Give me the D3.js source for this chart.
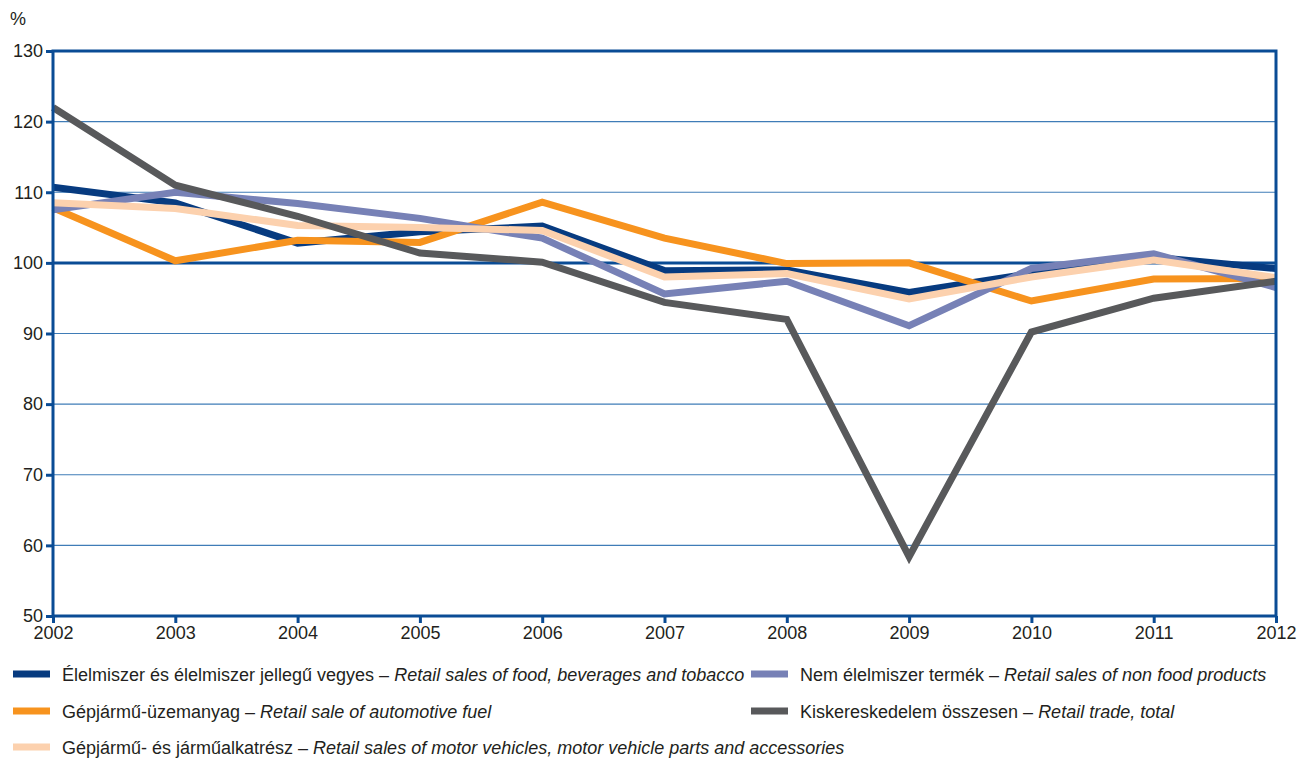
<!DOCTYPE html>
<html>
<head>
<meta charset="utf-8">
<script src="https://cdn.jsdelivr.net/npm/d3@7"></script>
<style>
  body { margin: 0; background: #fff; }
  text { font-family: "Liberation Sans Narrow", "Arial Narrow", "Liberation Sans", sans-serif; fill: #231f20; }
</style>
</head>
<body>
<script>
const years = [2002, 2003, 2004, 2005, 2006, 2007, 2008, 2009, 2010, 2011, 2012];
const yTicks = [50, 60, 70, 80, 90, 100, 110, 120, 130];

const food     = [110.7, 108.5, 102.8, 104.4, 105.2, 98.9, 99.0, 95.8, 98.5, 100.8, 99.2];
const fuel     = [107.8, 100.3, 103.2, 102.9, 108.6, 103.5, 99.9, 100.0, 94.6, 97.7, 97.8];
const nonFood  = [107.5, 110.0, 108.4, 106.3, 103.5, 95.6, 97.4, 91.1, 99.2, 101.3, 96.5];
const vehicles = [108.5, 107.7, 105.3, 105.0, 104.6, 98.0, 98.5, 94.9, 98.0, 100.4, 97.9];
const total    = [122.0, 111.0, 106.6, 101.4, 100.1, 94.4, 92.0, 58.4, 90.2, 95.0, 97.4];

const seriesNames = [
  ["Élelmiszer és élelmiszer jellegű vegyes – ", "Retail sales of food, beverages and tobacco"],
  ["Gépjármű-üzemanyag – ", "Retail sale of automotive fuel"],
  ["Gépjármű- és járműalkatrész – ", "Retail sales of motor vehicles, motor vehicle parts and accessories"],
  ["Nem élelmiszer termék – ", "Retail sales of non food products"],
  ["Kiskereskedelem összesen – ", "Retail trade, total"]
];
const seriesColors = ["#073b80", "#f7931e", "#fcd1ae", "#7781b6", "#58595b"];
const seriesData = [food, fuel, vehicles, nonFood, total];
// drawing order, bottom to top
const drawOrder = [0, 1, 3, 2, 4];

const width = 1299, height = 758;
const fs = 18;
const svg = d3.select("body").append("svg").attr("width", width).attr("height", height);

const x = d3.scaleLinear().domain([2002, 2012]).range([53, 1276]);
const y = d3.scaleLinear().domain([50, 130]).range([616, 51]);

const frame = "#0a4c95";

// gridlines
svg.append("g").selectAll("line")
  .data(yTicks.filter(d => d != 50 && d != 130))
  .enter().append("line")
  .attr("x1", x(2002)).attr("x2", x(2012))
  .attr("y1", d => y(d)).attr("y2", d => y(d))
  .attr("stroke", d => d == 100 ? frame : "#3f7cb7")
  .attr("stroke-width", d => d == 100 ? 3 : 1.2);

// lines
const line = d3.line().x((d, i) => x(years[i])).y(d => y(d));
svg.append("g").selectAll("path")
  .data(drawOrder)
  .enter().append("path")
  .attr("d", k => line(seriesData[k]))
  .attr("fill", "none")
  .attr("stroke", k => seriesColors[k])
  .attr("stroke-width", 7)
  .attr("stroke-linejoin", "miter");

// frame
svg.append("rect")
  .attr("x", x(2002)).attr("y", y(130))
  .attr("width", x(2012) - x(2002)).attr("height", y(50) - y(130))
  .attr("fill", "none").attr("stroke", frame).attr("stroke-width", 3);

// y axis
const yAxis = svg.append("g")
  .attr("transform", `translate(${x(2002)},0)`)
  .call(d3.axisLeft(y).tickValues(yTicks).tickSize(7).tickPadding(3));
yAxis.select(".domain").remove();
yAxis.selectAll(".tick line").attr("stroke", frame).attr("stroke-width", 3);
yAxis.selectAll(".tick text").attr("font-size", fs).attr("fill", "#231f20")
  .style("font-family", "'Liberation Sans Narrow', 'Arial Narrow', sans-serif");

// x axis
const xAxis = svg.append("g")
  .attr("transform", `translate(0,${y(50)})`)
  .call(d3.axisBottom(x).tickValues(years).tickFormat(d3.format("d")).tickSize(7).tickPadding(3));
xAxis.select(".domain").remove();
xAxis.selectAll(".tick line").attr("stroke", frame).attr("stroke-width", 3);
xAxis.selectAll(".tick text").attr("font-size", fs).attr("fill", "#231f20")
  .style("font-family", "'Liberation Sans Narrow', 'Arial Narrow', sans-serif");

svg.append("text").attr("x", 10).attr("y", 25).attr("font-size", fs).text("%");

// legend
const legendPos = [[13, 674], [13, 711], [13, 747], [751, 674], [751, 711]];
const lg = svg.append("g").selectAll("g")
  .data(seriesNames)
  .enter().append("g")
  .attr("transform", (d, i) => `translate(${legendPos[i][0]},${legendPos[i][1]})`);
lg.append("rect").attr("x", 0).attr("y", -3.5).attr("width", 37).attr("height", 7)
  .attr("fill", (d, i) => seriesColors[i]);
const lt = lg.append("text").attr("x", 49).attr("y", 6.5).attr("font-size", fs);
lt.append("tspan").text(d => d[0]);
lt.append("tspan").attr("font-style", "italic").text(d => d[1]);
</script>
</body>
</html>
